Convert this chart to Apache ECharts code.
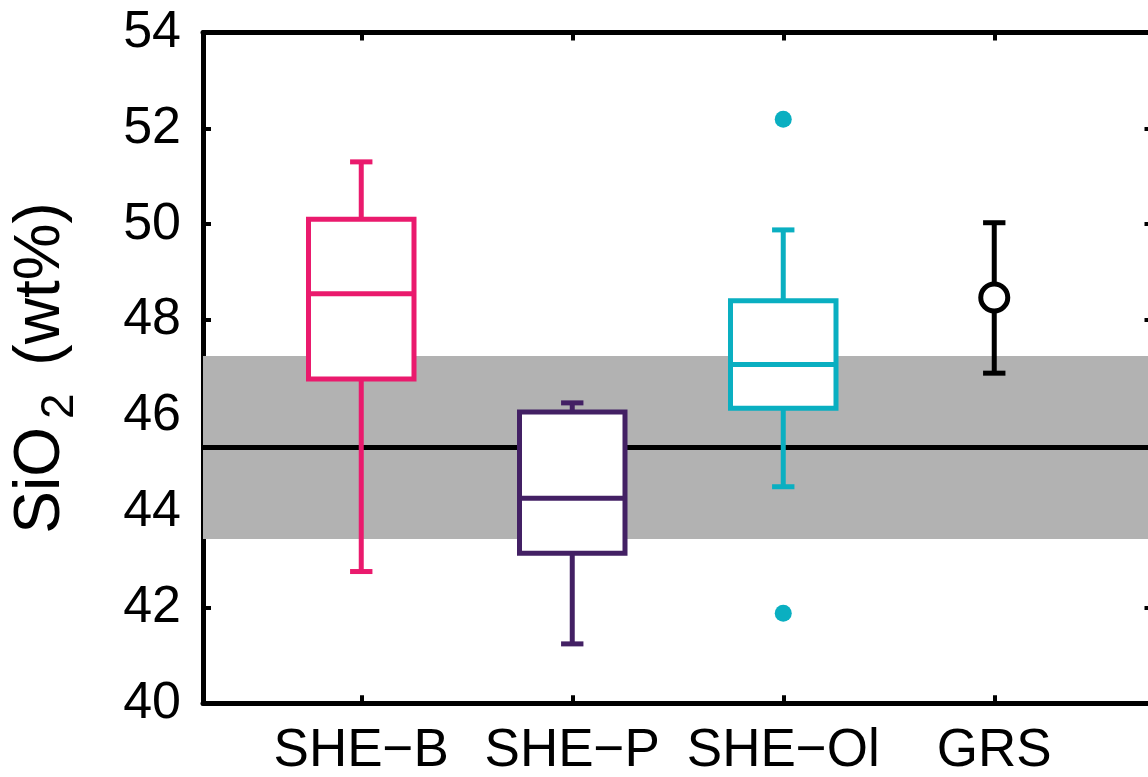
<!DOCTYPE html>
<html>
<head>
<meta charset="utf-8">
<script src="https://cdn.jsdelivr.net/npm/echarts@6/dist/echarts.min.js"></script>
<style>
  html, body { margin: 0; padding: 0; background: #fff; }
  #chart { width: 1148px; height: 777px; }
</style>
</head>
<body>
<div id="chart"></div>
<script>
// Groups along the x axis (positions 1..4)
const categories = ['SHE\u2212B', 'SHE\u2212P', 'SHE\u2212Ol', 'GRS'];
const categoryPos = [1, 2, 3, 4];

// Box statistics for the three SHE groups (wt% SiO2)
const boxLow    = [42.75, 41.24, 44.52];
const boxQ1     = [46.77, 43.13, 46.16];
const boxMedian = [48.55, 44.28, 47.07];
const boxQ3     = [50.10, 46.08, 48.40];
const boxHigh   = [51.30, 46.27, 49.88];
const boxColors = ['#EA1A6D', '#432064', '#0AAFC1'];

// Outliers of SHE-Ol
const outlierX = [3, 3];
const outlierY = [52.19, 41.88];

// GRS mean with its range
const grsMean = [48.47];
const grsLow  = [46.89];
const grsHigh = [50.03];

// Reference value with its shaded range
const refValue = 45.34;
const refBandLow = 43.43;
const refBandHigh = 47.25;

// Y ticks
const yTicks = [40, 42, 44, 46, 48, 50, 52, 54];

const FONT = '"Liberation Sans", Arial, Helvetica, sans-serif';
const AXIS_W = 5;

const boxData = boxLow.map((v, i) => [categoryPos[i], boxLow[i], boxQ1[i], boxMedian[i], boxQ3[i], boxHigh[i]]);
const grsData = grsMean.map((v, i) => [categoryPos[3], grsLow[i], grsMean[i], grsHigh[i]]);

function hLine(x1, x2, y, color, w) {
  return { type: 'line', shape: { x1: x1, y1: y, x2: x2, y2: y }, style: { stroke: color, lineWidth: w, lineCap: 'butt' } };
}
function vLine(x, y1, y2, color, w) {
  return { type: 'line', shape: { x1: x, y1: y1, x2: x, y2: y2 }, style: { stroke: color, lineWidth: w, lineCap: 'butt' } };
}

function renderBox(params, api) {
  const x = api.value(0);
  const color = boxColors[params.dataIndex];
  const pLow = api.coord([x, api.value(1)]);
  const pQ1 = api.coord([x, api.value(2)]);
  const pMed = api.coord([x, api.value(3)]);
  const pQ3 = api.coord([x, api.value(4)]);
  const pHigh = api.coord([x, api.value(5)]);
  const halfW = api.size([0.25, 0])[0];
  const capHalf = api.size([0.053, 0])[0];
  const cx = pQ1[0];
  const lw = 5;
  return {
    type: 'group',
    children: [
      vLine(cx, pQ3[1], pHigh[1], color, lw),
      hLine(cx - capHalf, cx + capHalf, pHigh[1], color, lw),
      vLine(cx, pQ1[1], pLow[1], color, lw),
      hLine(cx - capHalf, cx + capHalf, pLow[1], color, lw),
      {
        type: 'rect',
        shape: { x: cx - halfW, y: pQ3[1], width: 2 * halfW, height: pQ1[1] - pQ3[1] },
        style: { fill: '#fff', stroke: color, lineWidth: lw }
      },
      hLine(cx - halfW, cx + halfW, pMed[1], color, lw)
    ]
  };
}

function renderErrorBar(params, api) {
  const x = api.value(0);
  const pLow = api.coord([x, api.value(1)]);
  const pHigh = api.coord([x, api.value(3)]);
  const capHalf = api.size([0.053, 0])[0];
  const cx = pLow[0];
  const lw = 5;
  return {
    type: 'group',
    children: [
      vLine(cx, pLow[1], pHigh[1], '#000', lw),
      hLine(cx - capHalf, cx + capHalf, pHigh[1], '#000', lw),
      hLine(cx - capHalf, cx + capHalf, pLow[1], '#000', lw)
    ]
  };
}

const chart = echarts.init(document.getElementById('chart'), null, { renderer: 'canvas' });

const tickStyle = { show: true, inside: true, length: 8, lineStyle: { color: '#000', width: 4 } };
const axisLineStyle = { show: true, lineStyle: { color: '#000', width: AXIS_W } };

chart.setOption({
  animation: false,
  backgroundColor: '#fff',
  grid: { left: 203, top: 32.5, width: 949.5, height: 670.8, containLabel: false, outerBoundsMode: 'none' },
  xAxis: [
    {
      type: 'value', position: 'bottom', min: 0.25, max: 4.75,
      axisLine: axisLineStyle,
      axisTick: Object.assign({ customValues: categoryPos }, tickStyle),
      axisLabel: {
        customValues: categoryPos,
        formatter: v => categories[categoryPos.indexOf(v)] || '',
        color: '#000', fontSize: 53, fontFamily: FONT, margin: 22
      },
      splitLine: { show: false }
    },
    {
      type: 'value', position: 'top', min: 0.25, max: 4.75,
      axisLine: axisLineStyle,
      axisTick: Object.assign({ customValues: categoryPos }, tickStyle),
      axisLabel: { show: false },
      splitLine: { show: false }
    }
  ],
  yAxis: [
    {
      type: 'value', position: 'left', min: 40, max: 54, interval: 2,
      axisLine: axisLineStyle,
      axisTick: tickStyle,
      axisLabel: {
        customValues: yTicks,
        color: '#000', fontSize: 52, fontFamily: FONT, margin: 22
      },
      splitLine: { show: false },
      name: '{m|SiO}{s|2}{m| (wt%)}',
      nameLocation: 'middle',
      nameGap: 130,
      nameRotate: 90,
      nameTextStyle: {
        rich: {
          m: { fontSize: 64, fontFamily: FONT, color: '#000', lineHeight: 64, verticalAlign: 'top' },
          s: { fontSize: 46, fontFamily: FONT, color: '#000', lineHeight: 64, verticalAlign: 'top', padding: [28, 10, 0, 8] }
        }
      }
    },
    {
      type: 'value', position: 'right', min: 40, max: 54, interval: 2,
      axisLine: axisLineStyle,
      axisTick: tickStyle,
      axisLabel: { show: false },
      splitLine: { show: false }
    }
  ],
  series: [
    {
      // reference value line with shaded range
      type: 'line',
      z: 1,
      xAxisIndex: 0, yAxisIndex: 0,
      data: [[0.25, refValue], [4.75, refValue]],
      symbol: 'none',
      lineStyle: { color: '#000', width: 5 },
      silent: true,
      markArea: {
        silent: true,
        itemStyle: { color: '#b2b2b2' },
        data: [[{ yAxis: refBandLow }, { yAxis: refBandHigh }]]
      }
    },
    {
      type: 'custom',
      z: 3,
      xAxisIndex: 0, yAxisIndex: 0,
      renderItem: renderBox,
      encode: { x: 0, y: [1, 2, 3, 4, 5] },
      data: boxData
    },
    {
      type: 'scatter',
      z: 4,
      xAxisIndex: 0, yAxisIndex: 0,
      symbol: 'circle',
      symbolSize: 17,
      itemStyle: { color: boxColors[2], opacity: 1 },
      data: outlierX.map((x, i) => [x, outlierY[i]])
    },
    {
      type: 'custom',
      z: 3,
      xAxisIndex: 0, yAxisIndex: 0,
      renderItem: renderErrorBar,
      encode: { x: 0, y: [1, 2, 3] },
      data: grsData
    },
    {
      type: 'scatter',
      z: 5,
      xAxisIndex: 0, yAxisIndex: 0,
      symbol: 'circle',
      symbolSize: 27,
      itemStyle: { color: '#fff', borderColor: '#000', borderWidth: 5, opacity: 1 },
      data: grsData.map(d => [d[0], d[2]])
    }
  ]
});
</script>
</body>
</html>
